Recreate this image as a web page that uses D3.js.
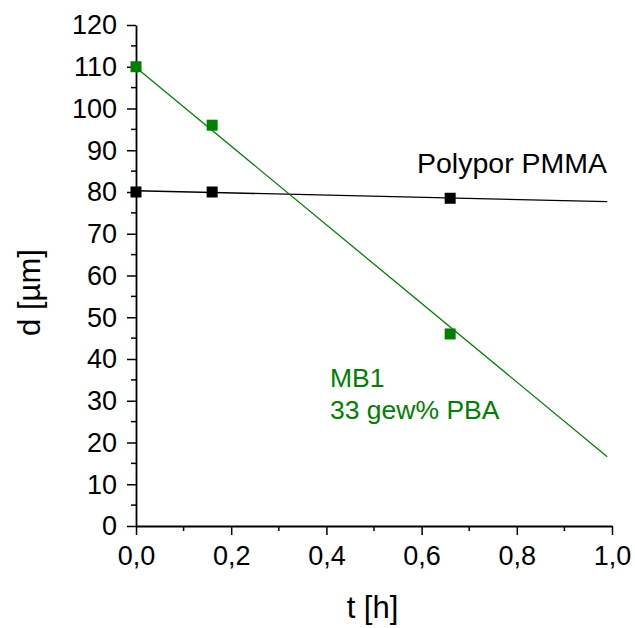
<!DOCTYPE html>
<html><head><meta charset="utf-8">
<script src="https://cdn.jsdelivr.net/npm/d3@7"></script>
<style>body{margin:0;background:#fff}text{font-family:"Liberation Sans",Arial,sans-serif}</style>
</head><body>
<svg id="c" width="635" height="628"></svg>
<script>
const pmmaT = [0, 0.16, 0.66];
const pmmaD = [80, 80, 78.5];
const pmmaFit = [[0, 80.3], [0.99, 77.7]];
const mb1T = [0, 0.16, 0.66];
const mb1D = [110, 96, 46];
const mb1Fit = [[0, 109.8], [0.99, 16.6]];
const xTicks = [0, 0.2, 0.4, 0.6, 0.8, 1.0];
const yTicks = [0,10,20,30,40,50,60,70,80,90,100,110,120];

const svg = d3.select("#c");
const x = d3.scaleLinear().domain([0, 1]).range([136, 612]);
const y = d3.scaleLinear().domain([0, 120]).range([526, 25]);
const green = "#008000";
const fmt = d => d3.format(".1f")(d).replace(".", ",");

// minor ticks
const g = svg.append("g");
d3.range(0.1, 1.0, 0.2).forEach(v => g.append("line").attr("x1", x(v)).attr("x2", x(v)).attr("y1", 526).attr("y2", 531).attr("stroke", "#000").attr("stroke-width", 1.5));
d3.range(5, 120, 10).forEach(v => g.append("line").attr("x1", 136).attr("x2", 131).attr("y1", y(v)).attr("y2", y(v)).attr("stroke", "#000").attr("stroke-width", 1.5));

const xa = svg.append("g").attr("transform", "translate(0,526)")
  .call(d3.axisBottom(x).tickValues(xTicks).tickFormat(fmt).tickSize(9).tickSizeOuter(0).tickPadding(11));
const ya = svg.append("g").attr("transform", "translate(136,0)")
  .call(d3.axisLeft(y).tickValues(yTicks).tickSize(9).tickSizeOuter(0).tickPadding(10));
[xa, ya].forEach(a => {
  a.attr("font-size", 27);
  a.select(".domain").attr("stroke-width", 1.8);
  a.selectAll(".tick line").attr("stroke-width", 1.5);
  a.selectAll("text").style("font-size", "27px").attr("fill", "#000");
});
ya.selectAll("text").attr("dy", "0.33em");

const line = d3.line().x(d => x(d[0])).y(d => y(d[1]));
svg.append("path").attr("d", line(pmmaFit)).attr("stroke", "#000").attr("stroke-width", 1.3).attr("fill", "none");
svg.append("path").attr("d", line(mb1Fit)).attr("stroke", green).attr("stroke-width", 1.3).attr("fill", "none");

const s = 11;
svg.selectAll(".pm").data(pmmaT).enter().append("rect")
  .attr("x", (d) => x(d) - s/2).attr("y", (d, i) => y(pmmaD[i]) - s/2).attr("width", s).attr("height", s).attr("fill", "#000");
svg.selectAll(".mb").data(mb1T).enter().append("rect")
  .attr("x", (d) => x(d) - s/2).attr("y", (d, i) => y(mb1D[i]) - s/2).attr("width", s).attr("height", s).attr("fill", green);

svg.append("text").attr("x", 417).attr("y", 173).style("font-size", "28.5px").text("Polypor PMMA");
svg.append("text").attr("x", 330).attr("y", 387).style("font-size", "26.5px").attr("fill", green).text("MB1");
svg.append("text").attr("x", 330).attr("y", 419).style("font-size", "26.5px").attr("fill", green).text("33 gew% PBA");

svg.append("text").attr("transform", "translate(40,292.5) rotate(-90)").attr("text-anchor", "middle").style("font-size", "31px").text("d [µm]");
svg.append("text").attr("x", 372.5).attr("y", 618).attr("text-anchor", "middle").style("font-size", "31px").text("t [h]");
</script>
</body></html>
